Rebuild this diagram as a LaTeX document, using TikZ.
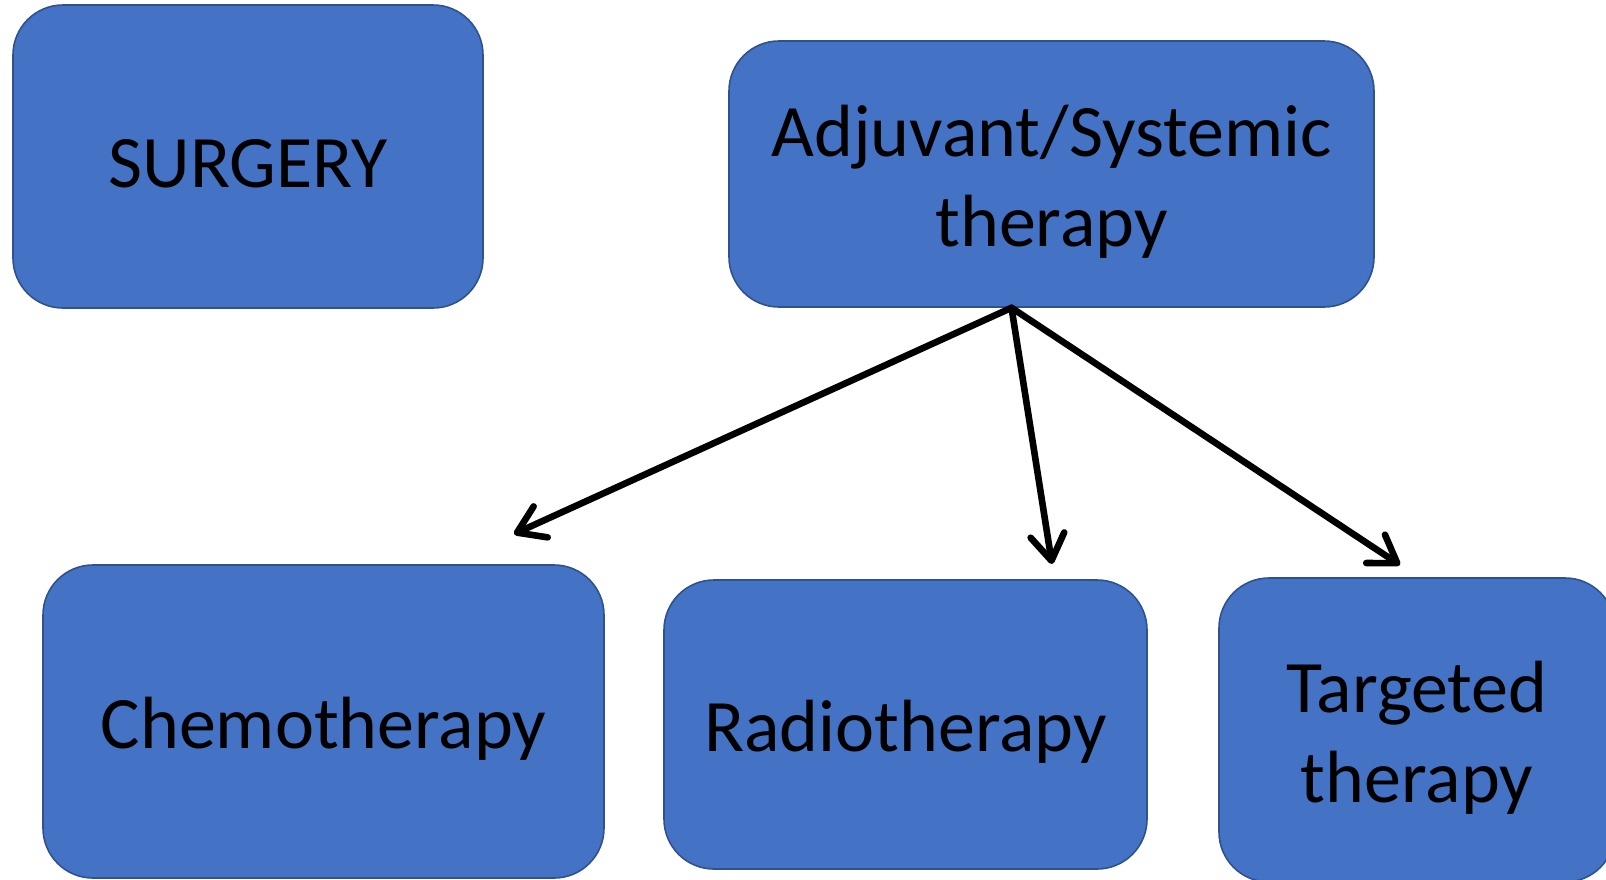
\documentclass[tikz,border=0pt]{standalone}
\usepackage{fontspec}
\setmainfont{Carlito}
\usetikzlibrary{arrows.meta}
\definecolor{boxfill}{HTML}{4472C4}
\definecolor{boxline}{HTML}{2F528F}
\tikzset{
  box/.style={draw=boxline, line width=0.8pt, fill=boxfill, rounded corners=25pt,
    inner sep=0pt},
  boxtext/.style={align=center, inner sep=0pt, font=\fontsize{37}{45}\selectfont,
    text=black, yshift=-3.8pt},
  arr/.style={line width=3.3pt, line cap=round, line join=round,
    -{Straight Barb[length=13pt, width=17pt, line cap=round, line join=round]}}
}
\begin{document}
\begin{tikzpicture}[x=0.5pt, y=-0.5pt]
\useasboundingbox (0,0) rectangle (1606,879);
\begin{scope}
\clip (0,0) rectangle (1606,879);
\node[box, minimum width=235pt, minimum height=151.5pt,
  label={[boxtext]center:SURGERY}] (surg) at (248,156.5) {};
\node[box, minimum width=322.5pt, minimum height=133pt,
  label={[boxtext]center:Adjuvant/Systemic\\therapy}] (adj) at (1051.5,174) {};
\node[box, minimum width=280.5pt, minimum height=156.5pt,
  label={[boxtext]center:Chemotherapy}] (chemo) at (323.5,721.5) {};
\node[box, minimum width=241.5pt, minimum height=144.5pt,
  label={[boxtext]center:Radiotherapy}] (radio) at (905.5,724.5) {};
\node[box, minimum width=198pt, minimum height=152pt,
  label={[boxtext]center:Targeted\\therapy}] (targ) at (1417,730) {};
\end{scope}
\coordinate (src) at ([xshift=-20pt]adj.south);
\coordinate (tc) at (514,534);
\coordinate (tr) at (1052,564);
\coordinate (tt) at (1400,565);
\draw[arr] (src) -- (tc);
\draw[arr] (src) -- (tr);
\draw[arr] (src) -- (tt);
\end{tikzpicture}
\end{document}
